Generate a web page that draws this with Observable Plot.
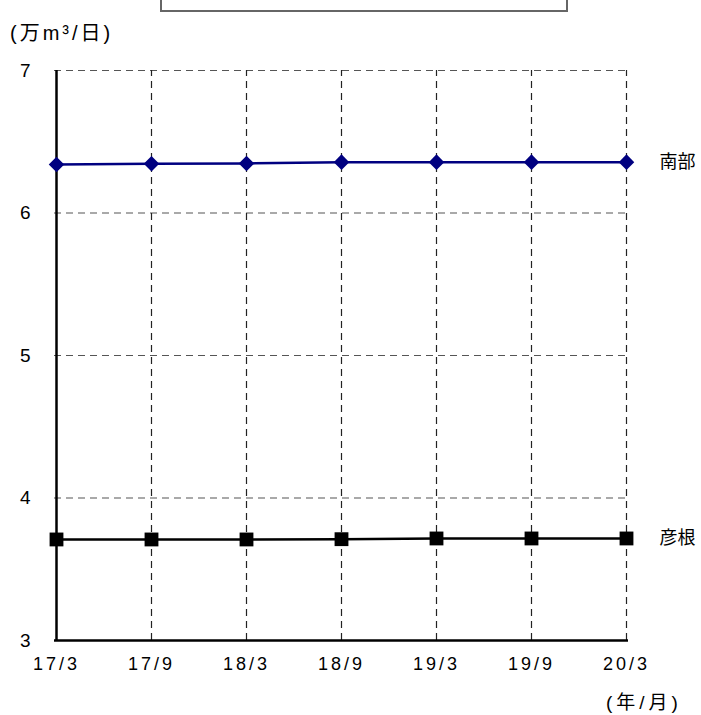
<!DOCTYPE html>
<html>
<head>
<meta charset="utf-8">
<script src="https://cdn.jsdelivr.net/npm/d3@7"></script>
<script src="https://cdn.jsdelivr.net/npm/@observablehq/plot@0.6"></script>
<style>
  html, body { margin: 0; padding: 0; background: #fff; }
  #wrap { position: relative; width: 701px; height: 715px; overflow: hidden;
          font-family: "Liberation Sans", Arial, "Noto Sans CJK JP", sans-serif; }
  .lbl { position: absolute; font-size: 19px; line-height: 1; color: #000; white-space: nowrap;
         font-family: "Liberation Sans", "Noto Sans CJK JP", sans-serif; }
  #titlebox { position: absolute; left: 160px; top: -6px; width: 404px; height: 14px;
              border: 2px solid #666; background: #fff; }
  #chart svg g[aria-label="x-axis tick label"] text { font-size: 18px; letter-spacing: 3px; }
  #chart svg g[aria-label="y-axis tick label"] text { font-size: 19px; }
</style>
</head>
<body>
<div id="wrap">
  <div id="chart"></div>
  <div id="titlebox"></div>
  <div class="lbl" style="left:10px; top:23px; font-size:20px; letter-spacing:3px;">(万m³/日)</div>
  <div class="lbl" style="left:606px; top:693px; letter-spacing:4px;">(年/月)</div>
</div>
<script>
const categories = ["17/3", "17/9", "18/3", "18/9", "19/3", "19/9", "20/3"];
const nanbu = [6.34, 6.345, 6.348, 6.357, 6.357, 6.357, 6.357];
const hikone = [3.709, 3.709, 3.709, 3.711, 3.716, 3.716, 3.716];
const seriesNames = ["南部", "彦根"];
const yTicks = [3, 4, 5, 6, 7];

const rows = [];
categories.forEach((c, i) => {
  rows.push({ period: c, value: nanbu[i], series: seriesNames[0] });
  rows.push({ period: c, value: hikone[i], series: seriesNames[1] });
});
const nanbuRows = rows.filter(d => d.series === seriesNames[0]);
const hikoneRows = rows.filter(d => d.series === seriesNames[1]);
const lastRows = [nanbuRows[nanbuRows.length - 1], hikoneRows[hikoneRows.length - 1]];

const chart = Plot.plot({
  width: 701,
  height: 715,
  marginTop: 70,
  marginBottom: 75,
  marginLeft: 54,
  marginRight: 73,
  style: { fontFamily: "'Liberation Sans', Arial, sans-serif", fontSize: "18px", color: "#000", background: "#fff" },
  x: { type: "point", domain: categories, padding: 0 },
  y: { domain: [3, 7] },
  marks: [
    Plot.ruleY(yTicks.slice(1), { stroke: "#555", strokeWidth: 1.2, strokeDasharray: "7,5" }),
    Plot.ruleX(categories.slice(1), { y1: 3, y2: 7, stroke: "#222", strokeWidth: 1.2, strokeDasharray: "7,5" }),
    Plot.axisY({ ticks: yTicks, tickSize: 0, tickPadding: 24, tickFormat: d3.format("d"), label: null }),
    Plot.axisX({ tickSize: 0, tickPadding: 17, label: null }),
    Plot.ruleX([categories[0]], { y1: 3, y2: 7, stroke: "#000", strokeWidth: 2.5 }),
    Plot.ruleY([3], { stroke: "#000", strokeWidth: 2.5 }),
    Plot.line(nanbuRows, { x: "period", y: "value", stroke: "#000080", strokeWidth: 2.5 }),
    Plot.line(hikoneRows, { x: "period", y: "value", stroke: "#000", strokeWidth: 2.5 }),
    Plot.dot(nanbuRows, { x: "period", y: "value", symbol: "diamond2", r: 7, fill: "#000080", stroke: "none" }),
    Plot.dot(hikoneRows, { x: "period", y: "value", symbol: "square", r: 7.8, fill: "#000", stroke: "none" }),
    Plot.text(lastRows, { x: "period", y: "value", text: "series", dx: 33, textAnchor: "start",
      fontSize: 18, fontFamily: "'Noto Sans CJK JP', sans-serif", fill: "#000" })
  ]
});
document.getElementById("chart").appendChild(chart);
</script>
</body>
</html>
